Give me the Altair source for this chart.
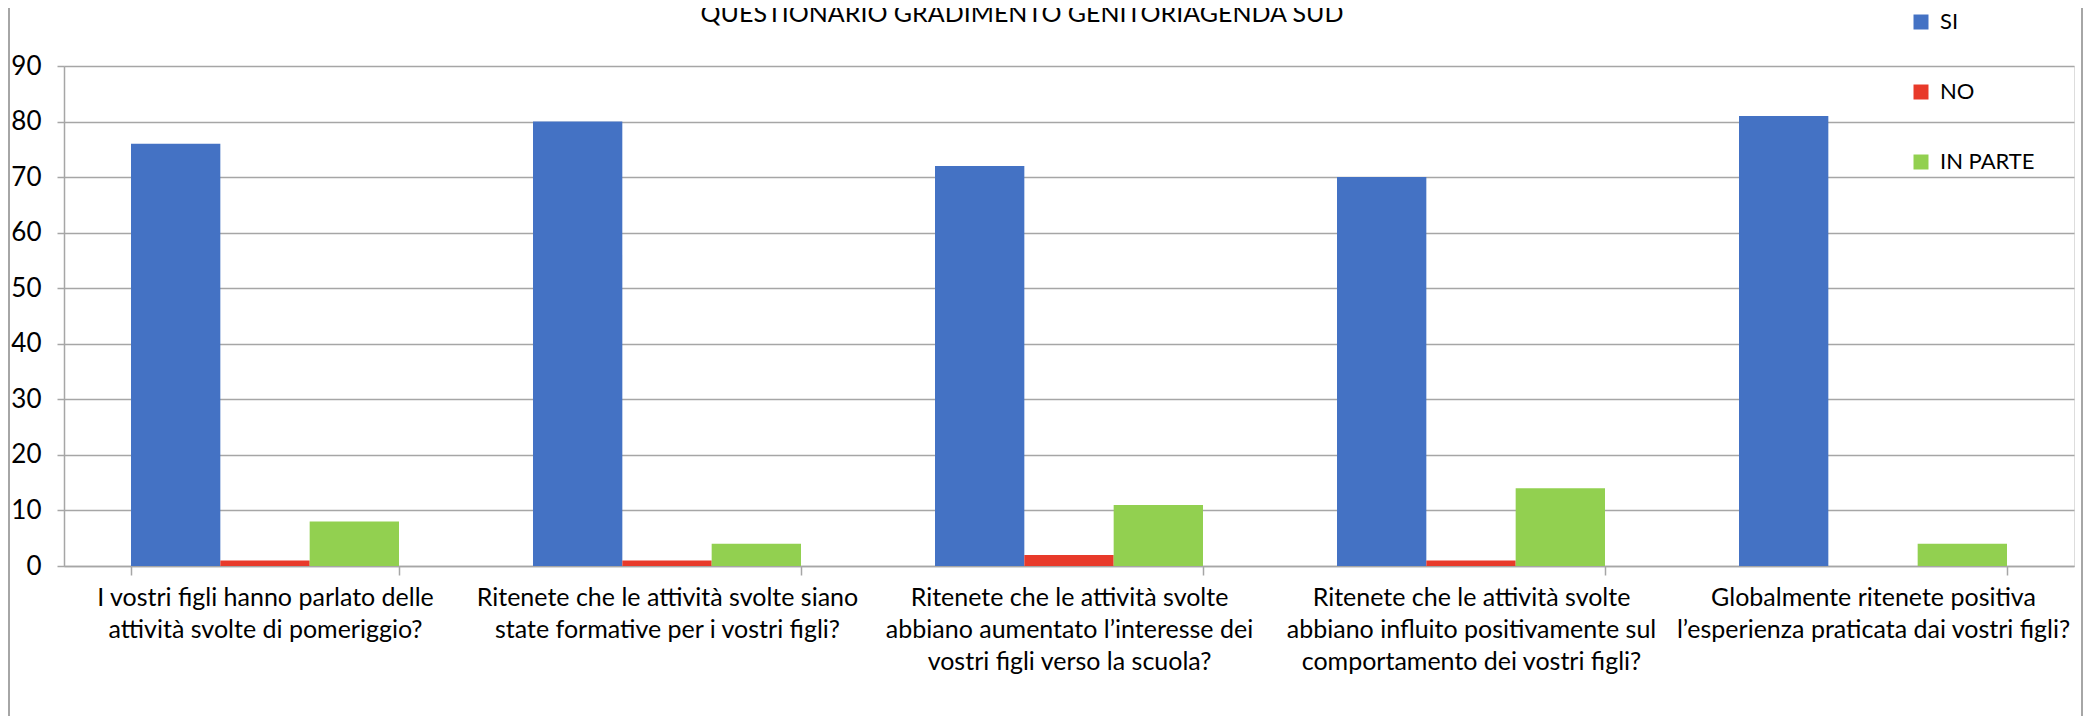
import altair as alt
import pandas as pd

questions = [
    "I  vostri figli hanno parlato delle|attività svolte di pomeriggio?",
    "Ritenete che le attività svolte siano|state formative  per i vostri figli?",
    "Ritenete che le attività svolte|abbiano aumentato l’interesse dei|vostri figli verso la scuola?",
    "Ritenete che le attività svolte|abbiano influito positivamente sul|comportamento dei vostri figli?",
    "Globalmente ritenete positiva|l’esperienza praticata dai vostri figli?",
]
series = ["SI", "NO", "IN PARTE"]
si_values = [76, 80, 72, 70, 81]
no_values = [1, 1, 2, 1, 0]
in_parte_values = [8, 4, 11, 14, 4]
colors = ["#4472C4", "#E83A2A", "#92D050"]
y_ticks = [0, 10, 20, 30, 40, 50, 60, 70, 80, 90]
title_text = "QUESTIONARIO GRADIMENTO GENITORIAGENDA SUD"

rows = []
for s, vals in zip(series, [si_values, no_values, in_parte_values]):
    for q, v in zip(questions, vals):
        rows.append({"domanda": q, "risposta": s, "valore": v})
df = pd.DataFrame(rows)

FONT = "Lato"
GRID = "#A6A6A6"
W, H = 2010, 500

bars = alt.Chart(df).mark_bar().encode(
    x=alt.X("domanda:N", sort=questions, title=None,
            scale=alt.Scale(paddingInner=1/3, paddingOuter=1/6),
            axis=alt.Axis(labelExpr="split(datum.label, '|')", labelAngle=0,
                          labelFontSize=25, labelLineHeight=32, labelLimit=0,
                          labelPadding=10, tickBand="extent", tickSize=9,
                          tickColor=GRID, domainColor=GRID, tickWidth=1.5,
                          domainWidth=1.5, grid=False, labelColor="#000000",
                          labelFont=FONT, labelBaseline="top")),
    xOffset=alt.XOffset("risposta:N", sort=series, scale=alt.Scale(paddingInner=0, paddingOuter=0)),
    y=alt.Y("valore:Q", title=None,
            scale=alt.Scale(domain=[0, 90], nice=False),
            axis=alt.Axis(values=y_ticks, labelFontSize=26, labelPadding=16,
                          tickSize=7, tickColor=GRID, domainColor=GRID,
                          gridColor=GRID, gridWidth=1.5, domainWidth=1.5,
                          tickWidth=1.5, labelColor="#000000", labelFont=FONT)),
    color=alt.Color("risposta:N", sort=series,
                    scale=alt.Scale(domain=series, range=colors),
                    legend=alt.Legend(title=None, orient="none", legendX=1846, legendY=-55,
                                      direction="vertical", symbolType="square",
                                      symbolSize=225, symbolStrokeWidth=0,
                                      labelFontSize=22, labelFont=FONT, labelColor="#000000",
                                      rowPadding=48, labelOffset=8)),
)

frame_df = pd.DataFrame({"k": [0]})
left_frame = alt.Chart(frame_df).mark_rule(color=GRID, strokeWidth=2).encode(
    x=alt.value(-55), y=alt.value(-58), y2=alt.value(720))
right_frame = alt.Chart(frame_df).mark_rule(color=GRID, strokeWidth=2).encode(
    x=alt.value(2018), y=alt.value(-58), y2=alt.value(720))

title_mark = alt.Chart(pd.DataFrame({"t": [title_text]})).mark_text(
    font=FONT, fontSize=25, color="#000000", align="center", baseline="alphabetic"
).encode(x=alt.value(958), y=alt.value(-44), text="t:N")

chart = alt.layer(bars, left_frame, right_frame, title_mark).properties(
    width=W, height=H,
    autosize=alt.AutoSizeParams(type="none"),
    padding={"left": 56, "top": 58, "right": 12, "bottom": 150},
).configure_view(stroke=None).configure(background="white")

chart.save("out.html", embed_options={"renderer": "svg", "actions": False})
